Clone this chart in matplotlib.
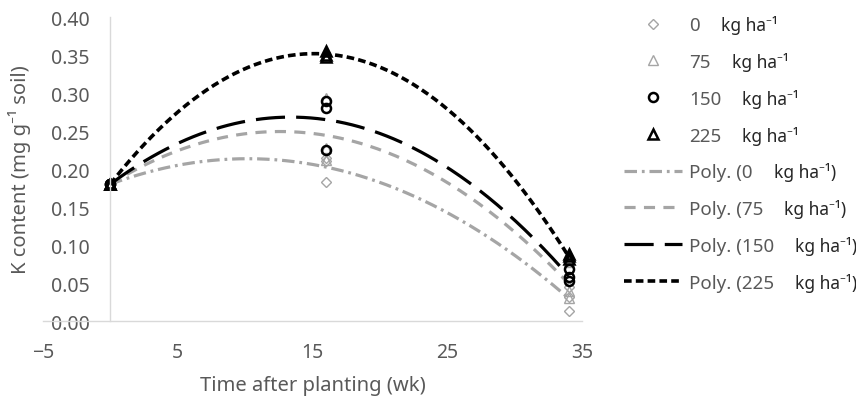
import matplotlib
matplotlib.use("Agg")
import matplotlib.pyplot as plt
import numpy as np
from matplotlib.ticker import FormatStrFormatter
from matplotlib.transforms import IdentityTransform

plt.rcParams["font.family"] = ["Noto Sans", "DejaVu Sans"]
plt.rcParams["lines.scale_dashes"] = False

# sampling times (weeks after planting), three replicates per date
time_wk = [0, 0, 0, 16, 16, 16, 34, 34, 34]

# soil K content (mg g-1 soil) per fertiliser rate
k_0kg = [0.180, 0.180, 0.180, 0.183, 0.210, 0.215, 0.013, 0.032, 0.045]
k_75kg = [0.180, 0.180, 0.180, 0.293, 0.228, 0.212, 0.078, 0.040, 0.030]
k_150kg = [0.180, 0.180, 0.180, 0.289, 0.281, 0.225, 0.068, 0.058, 0.052]
k_225kg = [0.180, 0.180, 0.180, 0.356, 0.350, 0.348, 0.088, 0.085, 0.082]

rates = ["0", "75", "150", "225"]
series = [k_0kg, k_75kg, k_150kg, k_225kg]

xticks = [-5, 5, 15, 25, 35]
yticks = [0.0, 0.05, 0.10, 0.15, 0.20, 0.25, 0.30, 0.35, 0.40]

GREY = "#a5a5a5"
TEXT = "#595959"
AXIS = "#d9d9d9"

marker_styles = [
    dict(marker="D", ms=5.0, mfc="none", mec=GREY, mew=1.0),
    dict(marker="^", ms=6.5, mfc="none", mec=GREY, mew=1.0),
    dict(marker="o", ms=6.5, mfc="none", mec="black", mew=1.8),
    dict(marker="^", ms=6.5, mfc="none", mec="black", mew=1.8),
]
trend_styles = [
    dict(color=GREY, lw=2.3, ls=(0, (9, 3.5, 2, 3.5))),
    dict(color=GREY, lw=2.3, ls=(0, (8, 6))),
    dict(color="black", lw=2.3, ls=(0, (21, 8))),
    dict(color="black", lw=2.6, ls=(0, (5.5, 3))),
]

fig = plt.figure(figsize=(8.56, 4.02), dpi=100)
ax = fig.add_axes([0.050, 0.199, 0.630, 0.756])

marker_handles = []
trend_handles = []
for vals, ms, ts in zip(series, marker_styles, trend_styles):
    (h,) = ax.plot(time_wk, vals, ls="none", **ms)
    marker_handles.append(h)
    # second-order polynomial trendline through the replicates
    coef = np.polyfit(time_wk, vals, 2)
    xs = np.linspace(min(time_wk), max(time_wk), 200)
    (t,) = ax.plot(xs, np.polyval(coef, xs), **ts)
    trend_handles.append(t)

ax.set_xlim(-5, 35)
ax.set_ylim(0, 0.40)
ax.set_xticks(xticks)
ax.set_yticks(yticks)
ax.yaxis.set_major_formatter(FormatStrFormatter("%.2f"))

for side in ["top", "right"]:
    ax.spines[side].set_visible(False)
ax.spines["left"].set_position(("data", 0))
for side in ["left", "bottom"]:
    ax.spines[side].set_color(AXIS)
    ax.spines[side].set_linewidth(1.0)
ax.tick_params(axis="both", length=0, labelsize=14, labelcolor=TEXT)
ax.tick_params(axis="y", pad=15)
ax.tick_params(axis="x", pad=15)

ax.set_xlabel("Time after planting (wk)", fontsize=14.5, color=TEXT)
ax.set_ylabel("K content (mg g\u207b\u00b9 soil)", fontsize=14.5, color=TEXT)
ax.xaxis.set_label_coords(0.5, -0.178)
ax.yaxis.set_label_coords(-0.022, 0.5)

labels = rates + ["Poly. (" + r for r in rates]
leg = ax.legend(
    marker_handles + trend_handles,
    labels,
    loc="upper left",
    bbox_to_anchor=(0.729, 0.957),
    bbox_transform=fig.transFigure,
    frameon=False,
    fontsize=13.5,
    handlelength=3.1,
    handletextpad=0.37,
    labelspacing=1.0,
    borderpad=0,
    borderaxespad=0,
)
for txt in leg.get_texts():
    txt.set_color(TEXT)

# unit text after each legend entry, set in a darker colour
fig.canvas.draw()
renderer = fig.canvas.get_renderer()
for i, txt in enumerate(leg.get_texts()):
    bb = txt.get_window_extent(renderer)
    x0, y0 = txt.get_transform().transform(txt.get_position())
    unit = "kg ha\u207b\u00b9" + (")" if i >= 4 else "")
    fig.text(bb.x1 + 21, y0, unit, transform=IdentityTransform(),
             fontsize=12.5, color="#262626", va="baseline", ha="left")

fig.savefig("out.png", dpi=100)
